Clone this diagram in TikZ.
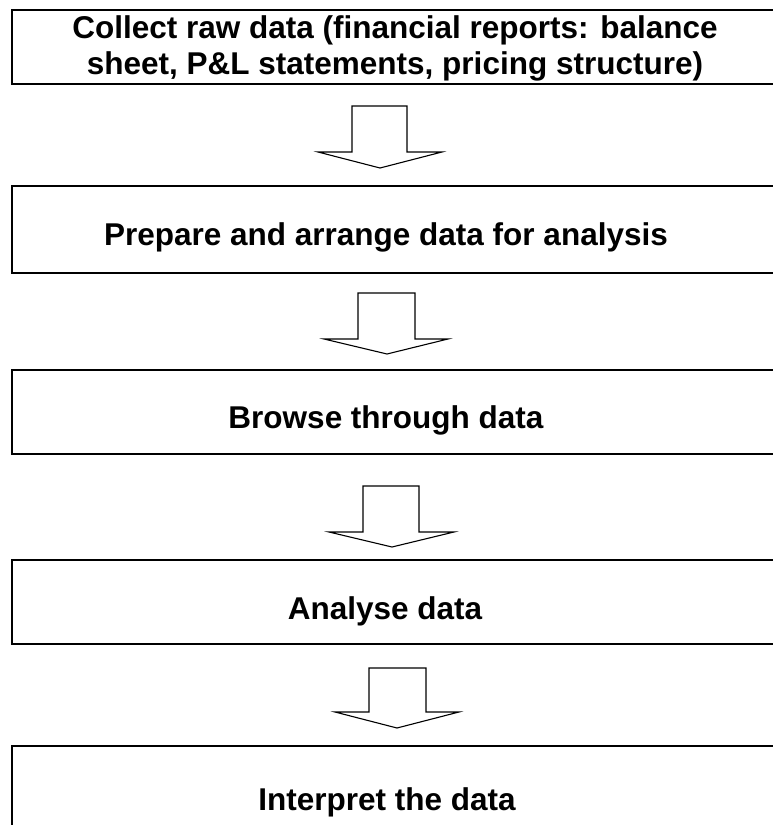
\documentclass[tikz,border=0pt]{standalone}
\usepackage{fontspec}
\setmainfont{Liberation Sans}
\begin{document}
\begin{tikzpicture}[x=1pt,y=-1pt,
  stepbox/.style={draw=black, line width=1.6pt, inner sep=0pt, anchor=north west, minimum width=765pt},
  boxtext/.style={font=\fontsize{31.5}{36}\selectfont\bfseries, align=center, anchor=base, inner sep=0pt},
  blockarrow/.style={draw=black, line width=1.1pt, fill=white, line join=miter}]
\useasboundingbox (0,0) rectangle (773,825);
\clip (0,0) rectangle (773,825);
% boxes
\node[stepbox, minimum height=74pt] (b1) at (11,9) {};
\node[stepbox, minimum height=87pt] (b2) at (11,185) {};
\node[stepbox, minimum height=84pt] (b3) at (11,369) {};
\node[stepbox, minimum height=84pt] (b4) at (11,559) {};
\node[stepbox, minimum height=90pt] (b5) at (11,745) {};
% texts
\node[boxtext] (t1) at (395,74) {Collect raw data (financial reports: balance\\sheet, P\&L statements, pricing structure)};
\node[boxtext] (t2) at (386,245) {Prepare and arrange data for analysis};
\node[boxtext] (t3) at (386,428) {Browse through data};
\node[boxtext] (t4) at (385,619) {Analyse data};
\node[boxtext] (t5) at (387,810) {Interpret the data};
% block arrows
\draw[blockarrow] (352,106) -- (407,106) -- (407,152) -- (442,152) -- (380,168) -- (318,152) -- (352,152) -- cycle;
\draw[blockarrow] (358,293) -- (415,293) -- (415,339) -- (448,339) -- (387,354) -- (324,339) -- (358,339) -- cycle;
\draw[blockarrow] (363,486) -- (419,486) -- (419,532) -- (454,532) -- (392,547) -- (329,532) -- (363,532) -- cycle;
\draw[blockarrow] (369,668) -- (426,668) -- (426,712) -- (459,712) -- (397,728) -- (335,712) -- (369,712) -- cycle;
\end{tikzpicture}
\end{document}
